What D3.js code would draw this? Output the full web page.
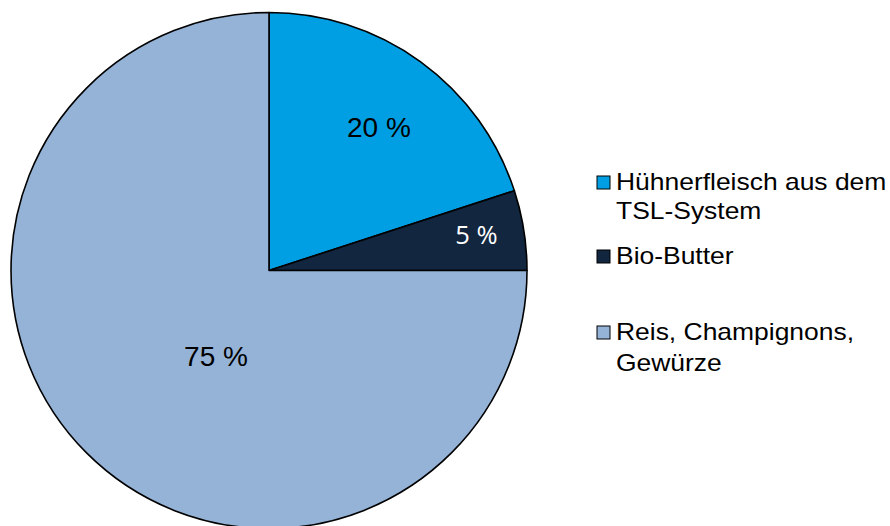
<!DOCTYPE html>
<html><head><meta charset="utf-8">
<script src="https://cdn.jsdelivr.net/npm/d3@7"></script>
<style>html,body{margin:0;padding:0;background:#fff;}svg{display:block;}</style>
</head><body>
<script>
const categories = ["Hühnerfleisch aus dem TSL-System", "Bio-Butter", "Reis, Champignons, Gewürze"];
const legendLines = [["Hühnerfleisch aus dem", "TSL-System"], ["Bio-Butter"], ["Reis, Champignons,", "Gewürze"]];
const values = [20, 5, 75];
const sliceLabels = ["20 %", "5 %", "75 %"];
const colors = ["#009FE3", "#12263F", "#95B3D7"];

const W = 890, H = 526;
const svg = d3.select("body").append("svg").attr("width", W).attr("height", H);
const cx = 269, cy = 270.5, r = 258;

const pie = d3.pie().sort(null).value(d => d);
const arcs = pie(values);
const arc = d3.arc().innerRadius(0).outerRadius(r);
const g = svg.append("g").attr("transform", `translate(${cx},${cy})`);
g.selectAll("path").data(arcs).enter().append("path")
  .attr("d", arc).attr("fill", (d, i) => colors[i])
  .attr("stroke", "#000").attr("stroke-width", 1.6).attr("stroke-linejoin", "round");

// label placement: radius fraction and angle shift (degrees) from slice mid-angle
const labelPlace = [[0.70, 1.5], [0.816, -1], [0.39, -13.2]];
const labelStyle = [
  {fill: "#000", font: "Liberation Sans, Arial, sans-serif", size: 28},
  {fill: "#fff", font: "Open Sans, sans-serif", size: 25.5},
  {fill: "#000", font: "Liberation Sans, Arial, sans-serif", size: 28}
];
const labelPos = arcs.map((a, i) => {
  const ang = (a.startAngle + a.endAngle) / 2 + labelPlace[i][1] * Math.PI / 180;
  const rr = r * labelPlace[i][0];
  return [Math.sin(ang) * rr, -Math.cos(ang) * rr];
});
g.selectAll("text.lbl").data(arcs).enter().append("text")
  .attr("class", "lbl")
  .attr("x", (d, i) => labelPos[i][0]).attr("y", (d, i) => labelPos[i][1])
  .attr("text-anchor", "middle").attr("dominant-baseline", "central")
  .attr("fill", (d, i) => labelStyle[i].fill)
  .style("font-family", (d, i) => labelStyle[i].font)
  .style("font-size", (d, i) => labelStyle[i].size + "px")
  .text((d, i) => sliceLabels[i]);

// legend
const legendY = [176, 250, 326];
const lineGap = [29, 0, 31];
const lg = svg.append("g");
categories.forEach((c, i) => {
  const item = lg.append("g").attr("transform", `translate(597,${legendY[i]})`);
  item.append("rect").attr("width", 13).attr("height", 13).attr("fill", colors[i]).attr("stroke", "#000").attr("stroke-width", 1);
  legendLines[i].forEach((t, j) => {
    item.append("text").attr("transform", `translate(19,${14 + j * lineGap[i]}) scale(1.15,1)`)
      .style("font-family", "Liberation Sans, Arial, sans-serif").style("font-size", "23px")
      .attr("fill", "#000").text(t);
  });
});
</script>
</body></html>
